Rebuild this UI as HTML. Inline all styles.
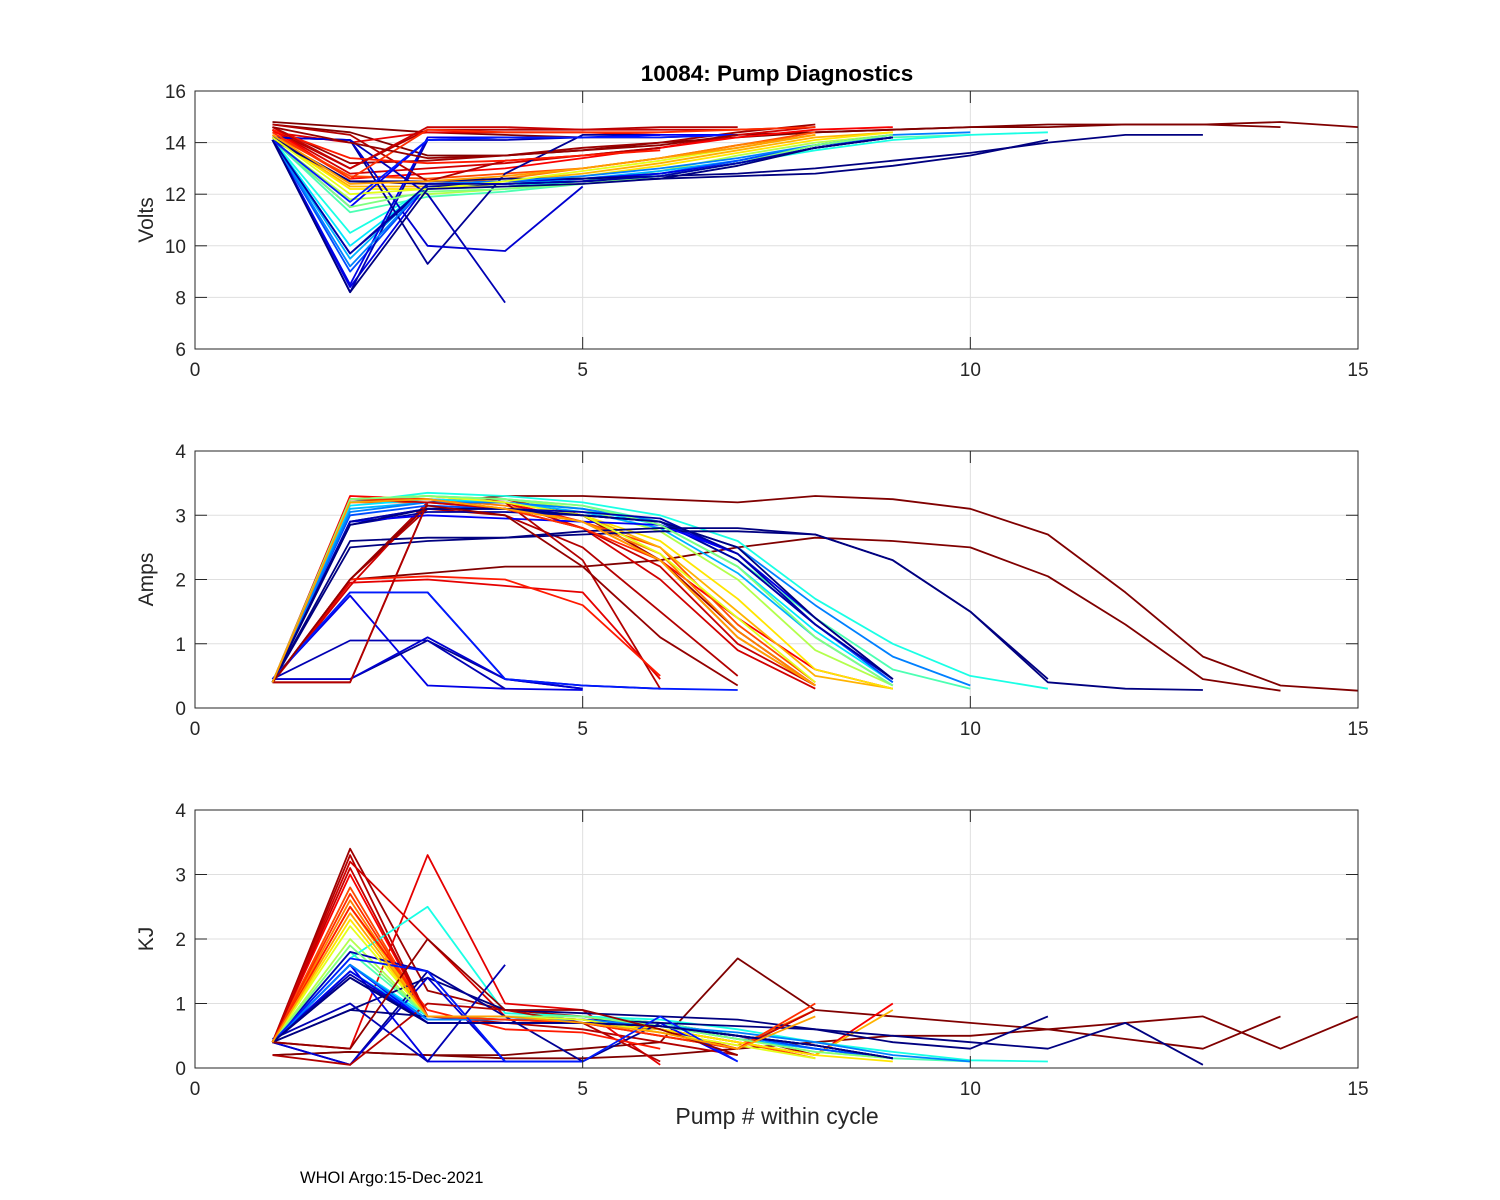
<!DOCTYPE html>
<html><head><meta charset="utf-8">
<style>
html,body{margin:0;padding:0;background:#fff;}
svg{display:block;font-family:"Liberation Sans",Arial,sans-serif;}
</style></head>
<body>
<svg id="chart" width="1500" height="1200" viewBox="0 0 1500 1200" xmlns="http://www.w3.org/2000/svg">
<rect width="1500" height="1200" fill="#fff"/>
<text x="777" y="81" text-anchor="middle" font-size="22.5" font-weight="bold" fill="#000">10084: Pump Diagnostics</text>
<text x="777" y="1124" text-anchor="middle" font-size="23" fill="#262626">Pump # within cycle</text>
<text x="300" y="1183" font-size="16.5" fill="#000">WHOI Argo:15-Dec-2021</text>
</svg>
<script>
const xTicks = [0,5,10,15];
const panelNames = ['volts','amps','kj'];
const panelTitles = ['Volts','Amps','KJ'];
const yTicksVolts = [6,8,10,12,14,16];
const yTicksAmps = [0,1,2,3,4];
const yTicksKJ = [0,1,2,3,4];
const seriesColor = [1.0,1.0,0.97,0.95,0.92,0.9,0.88,0.8,0.75,0.7,0.65,0.55,0.45,0.4,0.35,0.3,0.2,0.1,0.03,0.0,0.05,0.1,0.02,0.05,0.08,0.12,0.0,0.95,0.85,0.25,0.6,0.93,0.83,0.5,0.04,0.15,0.0,0.98,0.72];
const voltsSeries = [
[14.8,14.6,14.4,14.3,14.2,14.2,14.3,14.4,14.5,14.6,14.7,14.7,14.7,14.8,14.6],
[14.7,14.4,13.5,13.5,13.7,14.0,14.2,14.4,14.5,14.6,14.6,14.7,14.7,14.6],
[14.6,13.2,13.3,13.5,13.8,14.0,14.4,14.7],
[14.5,13.0,14.5,14.5,14.5,14.6,14.6],
[14.5,12.8,13.0,13.2,13.5,13.8,14.3,14.6],
[14.4,14.0,14.4,14.4,14.4,14.3],
[14.5,12.6,12.8,13.0,13.4,13.8,14.2,14.5,14.6],
[14.3,12.7,12.6,12.8,13.0,13.4,13.9,14.4],
[14.2,12.5,12.4,12.6,13.0,13.4,13.9,14.3],
[14.2,12.3,12.3,12.5,12.8,13.2,13.7,14.2,14.4],
[14.2,12.2,12.2,12.4,12.7,13.1,13.6,14.1,14.4],
[14.1,11.8,12.0,12.2,12.5,12.9,13.5,14.0,14.3],
[14.1,11.3,11.9,12.1,12.4,12.7,13.2,13.8,14.2,14.3],
[14.1,10.5,12.2,12.3,12.5,12.8,13.2,13.7,14.1,14.3,14.4],
[14.1,10.0,12.3,12.4,12.6,12.8,13.3,13.9,14.3],
[14.1,9.5,12.4,12.5,12.6,12.9,13.3,13.9,14.3],
[14.1,9.0,12.4,12.5,12.6,12.8,13.3,13.9,14.2],
[14.1,8.4,12.4,12.5,12.6,12.8,13.2,13.8,14.2],
[14.1,9.7,12.3,12.4,12.5,12.7,13.2,13.8,14.2],
[14.1,12.5,12.4,12.4,12.5,12.6,12.7,12.8,13.1,13.5,14.1],
[14.1,8.2,14.1,14.1,14.2],
[14.1,8.5,14.2,14.2,14.2],
[14.2,14.1,9.3,12.8,14.3,14.3],
[14.2,14.1,12.0,7.8],
[14.2,14.1,10.0,9.8,12.3],
[14.1,11.5,14.1,14.2,14.2,14.3,14.3],
[14.2,12.5,12.5,12.6,12.6,12.7,12.8,13.0,13.3,13.6,14.0,14.3,14.3],
[14.7,14.3,12.5,13.3,13.5,13.8],
[14.5,13.4,13.2,13.3,13.5,13.7],
[14.1,9.2,12.4,12.5,12.7,13.0,13.4,13.9,14.3,14.4],
[14.2,12.0,12.2,12.5,12.9,13.3,13.8,14.3],
[14.6,13.0,14.6,14.6,14.5,14.5,14.5,14.6],
[14.4,12.6,14.5,14.4,14.4,14.4,14.5,14.6],
[14.1,11.5,12.1,12.2,12.4,12.7,13.2,13.9,14.3],
[14.1,9.7,12.4,12.4,12.5,12.7,13.2,13.8,14.2],
[14.1,11.7,14.1,14.2,14.2,14.2,14.3],
[14.1,8.2,12.2,12.3,12.4,12.6,13.1,13.8,14.2],
[14.6,14.0,13.4,13.5,13.7,13.9,14.3],
[14.3,12.4,12.5,12.7,13.0,13.4,13.8,14.3]
];
const ampsSeries = [
[0.4,0.4,3.2,3.3,3.3,3.25,3.2,3.3,3.25,3.1,2.7,1.8,0.8,0.35,0.27],
[0.4,2.0,2.1,2.2,2.2,2.3,2.5,2.65,2.6,2.5,2.05,1.3,0.45,0.27],
[0.4,2.0,3.2,3.25,3.0,2.3,1.2,0.35],
[0.4,2.0,3.1,3.0,2.5,1.5,0.5],
[0.4,1.9,3.2,3.2,2.8,2.0,0.9,0.3],
[0.4,1.95,2.0,1.9,1.8,0.45],
[0.4,3.3,3.25,3.2,2.9,2.3,1.4,0.6,0.3],
[0.4,3.2,3.2,3.1,2.9,2.5,1.3,0.4],
[0.4,3.2,3.25,3.15,2.9,2.4,1.2,0.35],
[0.4,3.25,3.3,3.2,3.0,2.5,1.5,0.5,0.3],
[0.4,3.2,3.3,3.2,3.0,2.6,1.7,0.6,0.3],
[0.4,3.25,3.3,3.25,3.1,2.75,2.0,0.9,0.35],
[0.4,3.2,3.3,3.25,3.15,2.9,2.3,1.4,0.6,0.3],
[0.4,3.2,3.35,3.3,3.2,3.0,2.6,1.7,1.0,0.5,0.3],
[0.4,3.15,3.25,3.2,3.1,2.85,2.2,1.2,0.4],
[0.4,3.1,3.2,3.2,3.05,2.8,2.1,1.1,0.35],
[0.4,3.0,3.15,3.1,3.0,2.9,2.3,1.3,0.4],
[0.4,2.9,3.1,3.1,3.0,2.9,2.4,1.4,0.45],
[0.4,2.85,3.05,3.05,3.0,2.9,2.3,1.3,0.45],
[0.4,2.6,2.65,2.65,2.7,2.75,2.75,2.7,2.3,1.5,0.45],
[0.45,1.8,1.8,0.45,0.3],
[0.45,1.75,0.35,0.3,0.28],
[0.45,0.45,1.05,0.45,0.35,0.3],
[0.45,1.05,1.05,0.3],
[0.45,0.45,1.1,0.45,0.3],
[0.4,2.9,3.0,2.95,2.9,2.85,2.4],
[0.4,2.5,2.6,2.65,2.75,2.8,2.8,2.7,2.3,1.5,0.4,0.3,0.28],
[0.4,0.4,3.2,3.2,2.3,0.3],
[0.4,2.0,2.05,2.0,1.6,0.5],
[0.4,3.05,3.2,3.2,3.1,2.9,2.5,1.6,0.8,0.35],
[0.4,3.25,3.3,3.2,3.0,2.4,1.4,0.4],
[0.4,3.25,3.2,3.1,2.8,2.2,1.0,0.35],
[0.4,3.25,3.25,3.1,2.8,2.3,1.1,0.35],
[0.4,3.25,3.3,3.25,3.15,2.85,2.2,1.1,0.35],
[0.4,2.9,3.1,3.1,3.05,2.95,2.4,1.3,0.45],
[0.45,1.8,1.8,0.45,0.35,0.3,0.28],
[0.4,2.85,3.1,3.1,3.0,2.9,2.5,1.4,0.45],
[0.4,2.0,3.15,3.0,2.2,1.1,0.35],
[0.4,3.2,3.25,3.1,2.9,2.3,1.1,0.35]
];
const kjSeries = [
[0.2,0.25,0.2,0.15,0.15,0.2,0.3,0.4,0.5,0.5,0.6,0.7,0.8,0.3,0.8],
[0.2,0.25,0.2,0.2,0.3,0.4,1.7,0.9,0.8,0.7,0.6,0.45,0.3,0.8],
[0.4,3.4,1.2,0.9,0.8,0.7,0.5,0.2],
[0.4,3.3,0.8,0.7,0.6,0.4,0.2],
[0.4,3.2,2.0,0.8,0.7,0.6,0.3,0.9],
[0.4,0.3,3.3,1.0,0.9,0.05],
[0.4,3.0,0.8,0.8,0.8,0.6,0.4,0.2,1.0],
[0.4,2.8,0.8,0.8,0.75,0.6,0.4,0.15],
[0.4,2.6,0.8,0.8,0.75,0.55,0.35,0.9],
[0.4,2.5,0.8,0.8,0.75,0.6,0.4,0.2,0.9],
[0.4,2.3,0.8,0.8,0.75,0.6,0.4,0.2,0.1],
[0.4,2.0,0.8,0.8,0.8,0.65,0.45,0.25,0.15],
[0.4,1.8,0.8,0.8,0.8,0.7,0.5,0.3,0.15,0.1],
[0.4,1.7,2.5,0.85,0.8,0.75,0.6,0.4,0.25,0.12,0.1],
[0.4,1.6,0.8,0.8,0.75,0.65,0.45,0.3,0.15],
[0.4,1.5,0.75,0.75,0.75,0.65,0.45,0.3,0.15],
[0.4,1.6,0.75,0.75,0.7,0.65,0.5,0.3,0.15],
[0.4,1.5,0.7,0.7,0.7,0.65,0.5,0.35,0.15],
[0.4,1.4,0.7,0.7,0.7,0.65,0.5,0.35,0.15],
[0.4,0.9,1.4,0.9,0.85,0.8,0.75,0.6,0.4,0.3,0.8],
[0.4,1.8,1.5,0.1,0.1],
[0.4,1.6,0.1,0.1,0.1],
[0.4,0.05,1.5,0.8,0.1,0.7],
[0.45,1.0,0.1,1.6],
[0.4,0.05,1.4,0.1,0.1],
[0.4,1.6,0.7,0.7,0.7,0.7,0.1],
[0.4,0.9,0.8,0.8,0.75,0.7,0.65,0.6,0.5,0.4,0.3,0.7,0.05],
[0.2,0.05,1.0,0.9,0.7,0.1],
[0.4,2.5,0.9,0.6,0.55,0.3],
[0.4,1.6,0.75,0.75,0.75,0.65,0.55,0.4,0.2,0.1],
[0.4,2.2,0.8,0.8,0.75,0.55,0.35,0.15],
[0.4,3.1,0.8,0.75,0.7,0.5,0.3,0.9],
[0.4,2.7,0.8,0.75,0.7,0.5,0.3,1.0],
[0.4,1.9,0.8,0.8,0.8,0.65,0.45,0.25,0.15],
[0.4,1.45,0.7,0.7,0.7,0.65,0.5,0.35,0.15],
[0.4,1.7,1.5,0.1,0.1,0.8,0.1],
[0.4,1.4,0.7,0.7,0.7,0.65,0.5,0.35,0.15],
[0.4,0.3,2.0,0.9,0.9,0.6,0.2],
[0.4,2.4,0.8,0.8,0.7,0.55,0.3,0.8]
];
const NS='http://www.w3.org/2000/svg';
const svg=document.getElementById('chart');
const X0=195,X1=1358;
const panels=[
 {top:91,bot:349,ymin:6,ymax:16,ticks:yTicksVolts,data:voltsSeries},
 {top:451,bot:708,ymin:0,ymax:4,ticks:yTicksAmps,data:ampsSeries},
 {top:810,bot:1068,ymin:0,ymax:4,ticks:yTicksKJ,data:kjSeries}
];
function xScale(v){return X0+(v-0)/(15-0)*(X1-X0);}
function jet(t){
 function c(x){return Math.max(0,Math.min(1,x));}
 const r=c(1.5-Math.abs(4*t-3)),g=c(1.5-Math.abs(4*t-2)),b=c(1.5-Math.abs(4*t-1));
 return 'rgb('+Math.round(r*255)+','+Math.round(g*255)+','+Math.round(b*255)+')';
}
function mk(tag,attrs,parent){const e=document.createElementNS(NS,tag);for(const k in attrs)e.setAttribute(k,attrs[k]);(parent||svg).appendChild(e);return e;}
panels.forEach((p,pi)=>{
 const ys=v=>p.bot-(v-p.ymin)/(p.ymax-p.ymin)*(p.bot-p.top);
 const g=mk('g',{});
 
 
 mk('rect',{x:X0,y:p.top,width:X1-X0,height:p.bot-p.top,fill:'#fff'},g);
 xTicks.forEach(t=>{const l=mk('line',{x1:xScale(t),x2:xScale(t),y1:p.top,y2:p.bot,stroke:'#dfdfdf','stroke-width':1},g);
  
  });
 p.ticks.forEach(t=>{const l=mk('line',{x1:X0,x2:X1,y1:ys(t),y2:ys(t),stroke:'#dfdfdf','stroke-width':1},g);
  
  });
 p.data.forEach((s,si)=>{
  const pts=s.map((v,i)=>xScale(i+1).toFixed(1)+','+ys(v).toFixed(1)).join(' ');
  const pl=mk('polyline',{points:pts,fill:'none',stroke:jet(seriesColor[si]),'stroke-width':1.8,'stroke-linejoin':'round'},g);
  
  
 });
 mk('rect',{x:X0,y:p.top,width:X1-X0,height:p.bot-p.top,fill:'none',stroke:'#262626','stroke-width':1},g);
 xTicks.forEach(t=>{
  mk('line',{x1:xScale(t),x2:xScale(t),y1:p.bot,y2:p.bot-12,stroke:'#262626'},g);
  mk('line',{x1:xScale(t),x2:xScale(t),y1:p.top,y2:p.top+12,stroke:'#262626'},g);
  const tx=mk('text',{x:xScale(t),y:p.bot+27,'text-anchor':'middle','font-size':19,fill:'#262626'},g);
  tx.textContent=t;
  
  
 });
 p.ticks.forEach(t=>{
  mk('line',{x1:X0,x2:X0+12,y1:ys(t),y2:ys(t),stroke:'#262626'},g);
  mk('line',{x1:X1,x2:X1-12,y1:ys(t),y2:ys(t),stroke:'#262626'},g);
  const tx=mk('text',{x:X0-9,y:ys(t)+7,'text-anchor':'end','font-size':19,fill:'#262626'},g);
  tx.textContent=t;
  
  
 });
 const yc=(p.top+p.bot)/2;
 const tl=mk('text',{x:153,y:yc,'text-anchor':'middle','font-size':21,fill:'#262626',transform:'rotate(-90 153 '+yc+')'},g);
 tl.textContent=panelTitles[pi];
 
 
});
</script>
</body></html>
